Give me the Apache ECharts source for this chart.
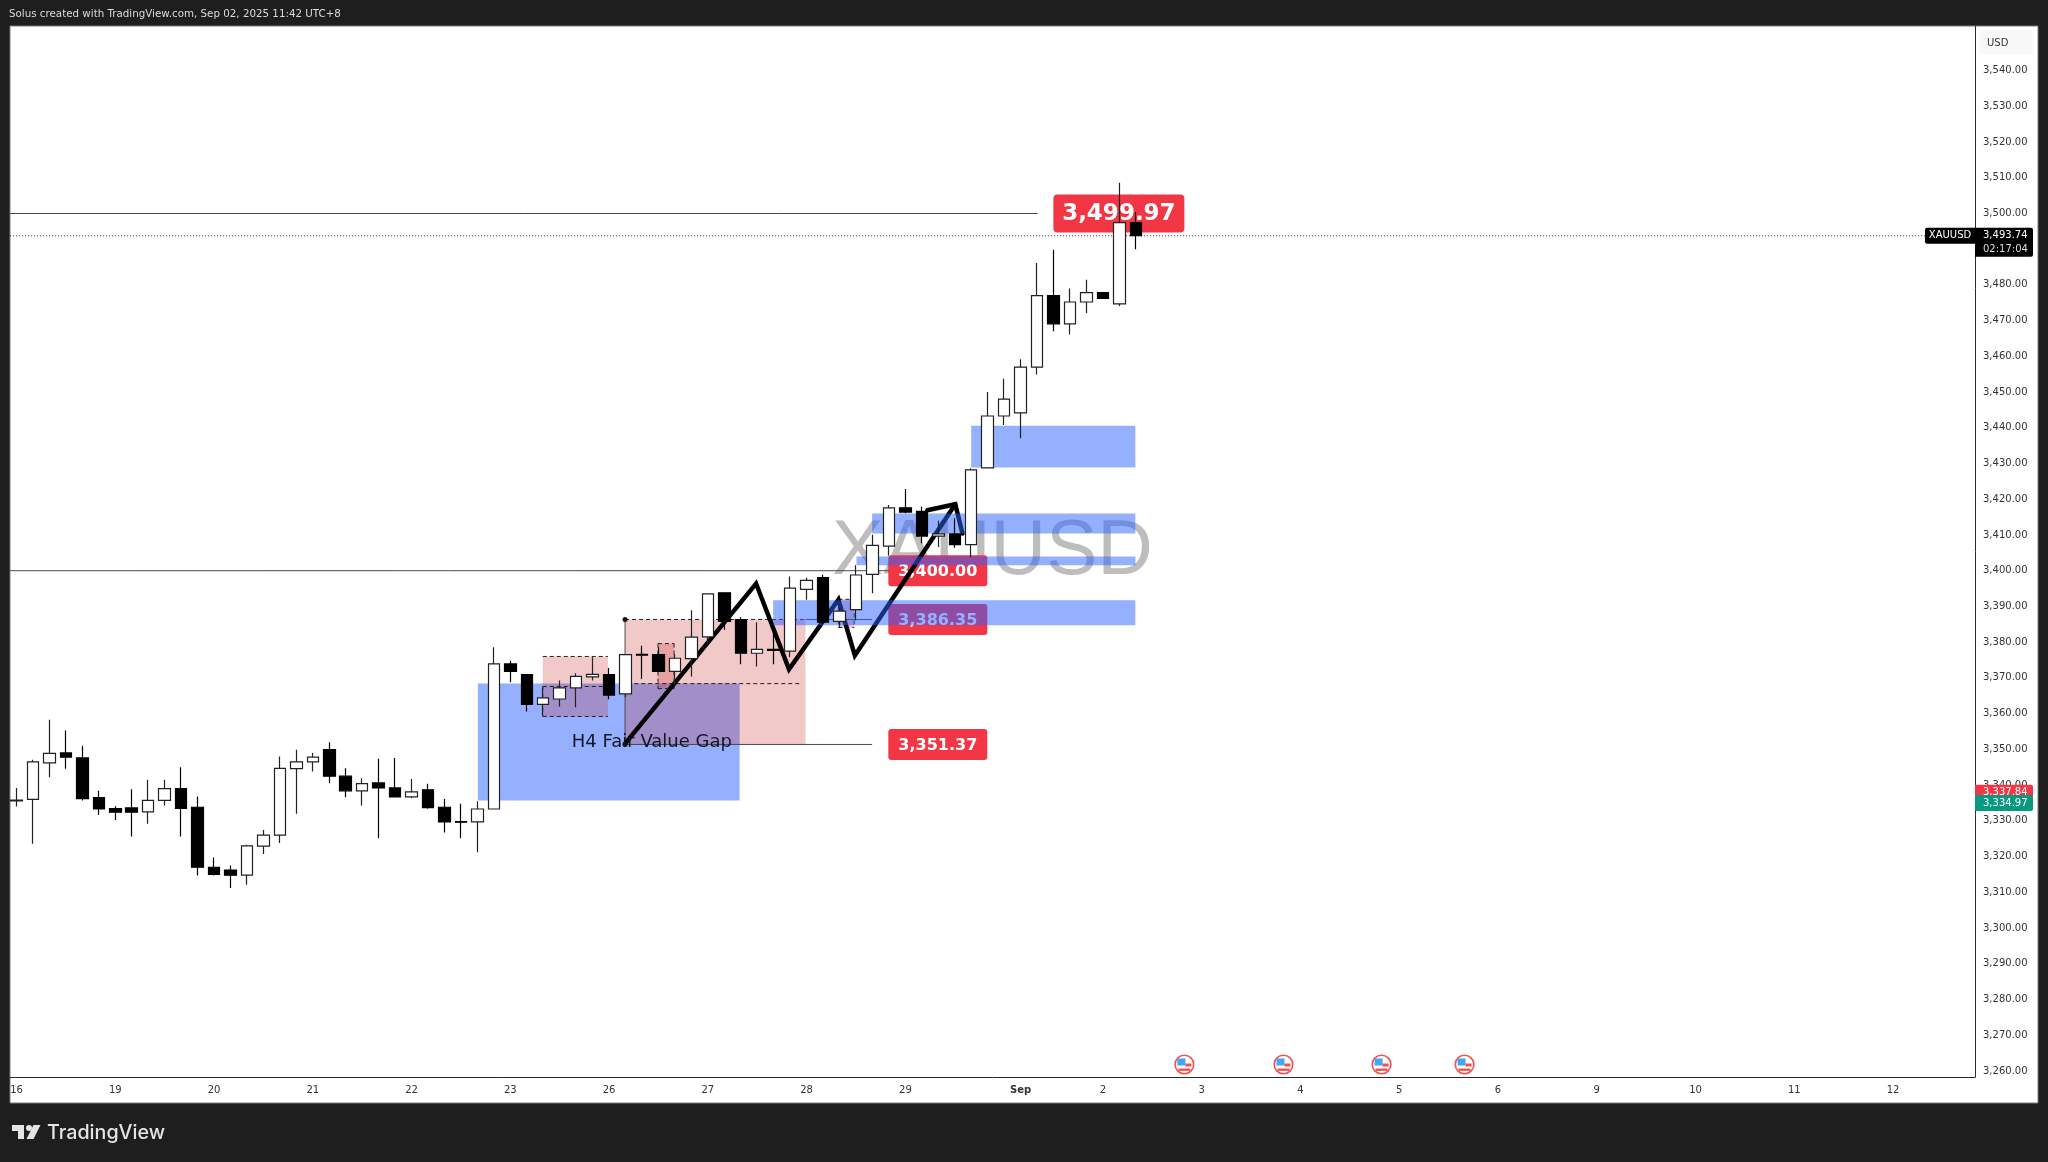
<!DOCTYPE html>
<html><head><meta charset="utf-8">
<style>html,body{margin:0;padding:0;background:#1e1e1e}#c{width:2048px;height:1162px}</style>
<script src="https://cdn.jsdelivr.net/npm/echarts@6/dist/echarts.min.js"></script>
</head><body><div id="c"></div>
<script>
const opens=[3335.6,3336.0,3346.2,3349.0,3347.6,3336.5,3333.4,3333.6,3332.5,3335.7,3339.0,3333.8,3317.0,3316.2,3314.8,3322.9,3326.0,3344.6,3346.5,3349.9,3342.5,3338.4,3340.6,3339.2,3336.7,3338.7,3333.8,3329.8,3329.7,3333.3,3373.9,3370.9,3362.6,3364.1,3367.2,3370.3,3370.9,3365.5,3376.6,3376.5,3371.8,3375.4,3381.5,3393.8,3386.3,3376.9,3378.0,3377.5,3394.8,3398.1,3385.8,3389.1,3398.95,3406.9,3417.6,3416.6,3409.7,3410.3,3407.3,3428.8,3443.3,3444.2,3457.0,3477.0,3469.1,3475.2,3477.8,3474.7,3497.4];
const closes=[3335.8,3346.5,3348.9,3347.8,3336.2,3333.3,3332.4,3332.4,3335.7,3339.0,3333.5,3317.0,3315.0,3314.8,3323.0,3326.0,3344.7,3346.5,3347.8,3342.5,3338.4,3340.4,3339.2,3336.7,3338.1,3333.7,3329.7,3329.6,3333.3,3373.9,3371.8,3362.6,3364.4,3367.2,3370.4,3371.0,3365.2,3376.5,3376.4,3371.8,3375.5,3381.4,3393.5,3385.8,3376.9,3378.0,3377.7,3395.1,3397.3,3385.6,3388.7,3398.8,3407.1,3417.6,3416.4,3409.7,3410.3,3407.3,3428.2,3443.3,3448.0,3457.0,3477.0,3469.1,3475.2,3477.8,3476.2,3497.4,3493.74];
const lows=[3334.0,3323.6,3342.2,3344.6,3335.7,3331.6,3330.2,3325.6,3329.2,3334.3,3325.6,3314.7,3314.7,3311.2,3312.1,3320.7,3323.8,3332.0,3343.8,3340.5,3336.6,3334.3,3325.1,3336.6,3336.3,3333.4,3326.7,3325.1,3321.2,3333.3,3368.8,3360.6,3359.5,3362.0,3361.8,3369.3,3364.0,3364.6,3369.7,3371.6,3367.9,3370.4,3379.5,3383.5,3373.8,3373.2,3373.8,3375.8,3391.9,3385.1,3384.0,3386.1,3393.7,3404.2,3416.1,3407.7,3406.6,3406.4,3403.8,3428.8,3440.8,3437.1,3454.9,3467.0,3466.1,3472.1,3476.2,3474.1,3490.0];
const highs=[3339.2,3347.1,3358.3,3355.3,3351.0,3338.4,3334.1,3338.8,3341.5,3341.5,3345.0,3336.8,3319.7,3317.5,3323.3,3327.4,3348.0,3349.9,3349.0,3352.0,3344.7,3341.9,3347.4,3347.6,3341.7,3340.4,3336.1,3334.8,3335.5,3378.6,3374.8,3370.9,3367.4,3369.3,3371.3,3375.8,3372.8,3376.5,3379.0,3378.6,3376.7,3388.9,3393.5,3393.8,3387.0,3385.6,3384.2,3398.4,3398.0,3398.9,3389.8,3401.5,3410.05,3418.4,3422.9,3417.9,3414.0,3414.7,3428.7,3450.0,3453.7,3459.2,3486.1,3489.8,3479.0,3481.4,3477.8,3508.6,3500.4];

const yTicks=[3260,3270,3280,3290,3300,3310,3320,3330,3340,3350,3360,3370,3380,3390,3400,3410,3420,3430,3440,3450,3460,3470,3480,3490,3500,3510,3520,3530,3540];
const xTickBars=[0,6,12,18,24,30,36,42,48,54,61,66,72,78,84,90,96,102,108,114];
const xTickLabels=['16','19','20','21','22','23','26','27','28','29','Sep','2','3','4','5','6','9','10','11','12'];

// rows: from bar, to bar, top price, bottom price
const bigZone=[[28.03,43.93,3368.4,3335.7]];
const blueZones=[[45.97,67.97,3391.7,3384.7],[51.03,67.97,3404.0,3401.5],[51.98,67.97,3416.0,3410.4],[58.0,67.97,3440.6,3428.9]];
const pinkZones=[[31.97,35.93,3376.0,3359.2],[36.97,47.93,3386.35,3351.4],[38.97,39.95,3379.6,3367.0],[49.93,50.89,3392.0,3384.1]];
// rows: from bar, price, to bar, price
const solidLines=[[-0.39,3499.97,62.03,3499.97],[-0.39,3400,53,3400],[47.93,3386.35,51.98,3386.35],[36.97,3351.37,51.98,3351.37],[36.97,3386.35,36.97,3351.37]];
const dashedLines=[[36.97,3386.35,47.93,3386.35],[37.53,3368.4,47.63,3368.4],[31.97,3376,35.93,3376],[31.97,3367.6,35.93,3367.6],[31.97,3359.2,35.93,3359.2],[31.97,3367.6,31.97,3359.2],
 [38.97,3379.6,39.95,3379.6],[38.97,3379.6,38.97,3367],[39.95,3379.6,39.95,3367],[38.97,3367,39.95,3367],[49.93,3392,50.89,3392],[49.93,3384.1,50.89,3384.1],[50.89,3392,50.89,3384.1],[49.93,3392,49.93,3384.1]];
const lastPrice=3493.74;
const zigBars=[36.97,44.93,46.93,49.93,50.93,57.03];
const zigPrices=[3351.6,3396.4,3372.4,3391.9,3376.3,3418.6];
const hookBars=[55.33,57.03,57.47];
const hookPrices=[3416.9,3418.6,3410.4];
const labelBars=[66.97,55.97,55.97,55.97];
const labelPrices=[3499.97,3400.00,3386.35,3351.37];
const labelTexts=['3,499.97','3,400.00','3,386.35','3,351.37'];
const tagPrices=[3337.84,3334.97];
const tagTexts=['3,337.84','3,334.97'];
const flagBars=[70.95,76.97,82.93,87.97];
const flagPrice=3261.8;

const el=document.getElementById('c');
const chart=echarts.init(el,null,{renderer:'canvas',width:2048,height:1162});
const AXF='"DejaVu Sans"';
const PL=10,PR=1975,PT=26,PB=1077,SR=2038,TB=1103;
const fmt=v=>v.toLocaleString('en-US',{minimumFractionDigits:2,maximumFractionDigits:2});

function rects(rows,fill,z){return {type:'custom',z,silent:true,data:rows,encode:{x:[0,1],y:[2,3]},clip:true,
  renderItem(p,api){const a=api.coord([api.value(0),api.value(2)]),b=api.coord([api.value(1),api.value(3)]);
    return {type:'rect',shape:{x:a[0],y:a[1],width:b[0]-a[0],height:b[1]-a[1]},style:{fill}};}};}
function segs(rows,stroke,dash,z,width){return {type:'custom',z,silent:true,data:rows,encode:{x:[0,2],y:[1,3]},clip:true,
  renderItem(p,api){const a=api.coord([api.value(0),api.value(1)]),b=api.coord([api.value(2),api.value(3)]);
    return {type:'line',shape:{x1:a[0],y1:a[1],x2:b[0],y2:b[1]},style:{stroke,lineWidth:width||1,lineDash:dash||null}};}};}
function poly(xs,ys,z){return {type:'line',z,silent:true,data:xs.map((x,i)=>[x,ys[i]]),symbol:'none',animation:false,
  lineStyle:{color:'#000',width:4.5,join:'miter',cap:'round'}};}

const option={
 animation:false,
 backgroundColor:'#1e1e1e',
 grid:{left:PL,top:PT,width:PR-PL,height:PB-PT,show:false,containLabel:false},
 xAxis:{type:'value',min:-0.395,max:118.98,splitLine:{show:false},axisTick:{show:false},
   axisLine:{show:true,onZero:false,lineStyle:{color:'#2a2a2a',width:1}},
   axisLabel:{customValues:xTickBars,margin:8,fontFamily:AXF,fontSize:10,color:'#333',
     formatter:v=>{const l=xTickLabels[xTickBars.indexOf(v)];return l==='Sep'?'{b|Sep}':(l||'');},
     rich:{b:{fontFamily:AXF,fontSize:10,fontWeight:'bold',color:'#333'}}}},
 yAxis:{type:'value',position:'right',min:3258.3,max:3552.45,splitLine:{show:false},axisTick:{show:false},
   axisLine:{show:true,onZero:false,lineStyle:{color:'#2a2a2a',width:1}},
   axisLabel:{customValues:yTicks,margin:8,align:'left',fontFamily:AXF,fontSize:10,color:'#333',formatter:v=>fmt(v)}},
 graphic:[
  {type:'rect',z:-20,silent:true,shape:{x:PL,y:PT,width:SR-PL,height:TB-PT},style:{fill:'#fff',stroke:'#7a7a7a',lineWidth:1}},
  {type:'rect',z:-19,silent:true,shape:{x:1979,y:30,width:54,height:24,r:3},style:{fill:'#f8f8f8'}},
  {type:'text',z:-18,silent:true,style:{x:1987,y:43,text:'USD',font:'10px '+AXF,fill:'#333',verticalAlign:'middle'}},
  {type:'text',z:-18,silent:true,style:{x:992.5,y:553,text:'XAUUSD',font:'77px "Liberation Sans"',fill:'#bdbdbd',align:'center',verticalAlign:'middle'}},
  {type:'text',silent:true,style:{x:9,y:14,text:'Solus created with TradingView.com, Sep 02, 2025 11:42 UTC+8',font:'10.3px '+AXF,fill:'#dcdcdc',verticalAlign:'middle'}},
  {type:'text',silent:true,style:{x:47,y:1133,text:'TradingView',font:'500 19.7px Inter',fill:'#e4e4e4',verticalAlign:'middle'}},
  {type:'polygon',silent:true,shape:{points:[[12,1125],[24,1125],[24,1139],[18,1139],[18,1131],[12,1131]]},style:{fill:'#e4e4e4'}},
  {type:'circle',silent:true,shape:{cx:29,cy:1128,r:3},style:{fill:'#e4e4e4'}},
  {type:'polygon',silent:true,shape:{points:[[33.5,1125],[40.5,1125],[33.5,1139],[26.5,1139]]},style:{fill:'#e4e4e4'}}
 ],
 series:[
  rects(bigZone,'rgba(41,98,255,0.5)',2),
  rects(pinkZones,'rgba(204,40,40,0.25)',3),
  // red value labels
  {type:'custom',z:4,silent:true,data:labelBars.map((b,i)=>[b,labelPrices[i]]),encode:{x:0,y:1},
   renderItem(p,api){const c=api.coord([api.value(0),api.value(1)]);const big=p.dataIndex===0;
     const w=big?131:99,h=big?38:31;
     return {type:'group',children:[
       {type:'rect',shape:{x:c[0]-w/2,y:c[1]-h/2,width:w,height:h,r:big?4:3},style:{fill:'#f23645'}},
       {type:'text',style:{x:c[0],y:c[1]+1,text:labelTexts[p.dataIndex],font:(big?'bold 23px ':'bold 16px ')+AXF,fill:'#fff',align:'center',verticalAlign:'middle'}}]};}},
  segs(solidLines,'#4a4a4a',null,5),
  segs(dashedLines,'#222',[4,3],5),
  {type:'line',z:5,silent:true,data:[[-0.39,lastPrice],[116,lastPrice]],symbol:'none',lineStyle:{color:'#333',width:1,type:[1,2]}},
  poly(zigBars,zigPrices,6),
  poly(hookBars,hookPrices,6),
  rects(blueZones,'rgba(41,98,255,0.5)',7),
  {type:'custom',z:8,silent:true,data:[[36.97,3386.35],[36.97,3351.37]],encode:{x:0,y:1},
   renderItem(p,api){const c=api.coord([api.value(0),api.value(1)]);return {type:'circle',shape:{cx:c[0],cy:c[1],r:2.5},style:{fill:'#111'}};}},
  {type:'candlestick',z:9,silent:true,barWidth:12,clip:false,
   data:opens.map((o,i)=>[i,o,closes[i],lows[i],highs[i]]),encode:{x:0,y:[1,2,3,4]},
   itemStyle:{color:'#fff',color0:'#000',borderColor:'#222',borderColor0:'#000',borderWidth:1.2}},
  {type:'custom',z:10,silent:true,data:[[38.6,3351.9]],encode:{x:0,y:1},
   renderItem(p,api){const c=api.coord([api.value(0),api.value(1)]);
     return {type:'text',style:{x:c[0],y:c[1],text:'H4 Fair Value Gap',font:'18px '+AXF,fill:'#131722',align:'center',verticalAlign:'middle'}};}},
  // event flags
  {type:'custom',z:10,silent:true,data:flagBars.map(b=>[b,flagPrice]),encode:{x:0,y:1},
   renderItem(p,api){const c=api.coord([api.value(0),api.value(1)]);const x=c[0],y=c[1];
     return {type:'group',children:[
       {type:'circle',shape:{cx:x,cy:y,r:9.3},style:{fill:'#fff',stroke:'#ef5350',lineWidth:1.6}},
       {type:'rect',shape:{x:x-7,y:y-6,width:8,height:7},style:{fill:'#42a5f5'}},
       {type:'rect',shape:{x:x+1,y:y-1,width:6,height:3},style:{fill:'#ef5350'}},
       {type:'rect',shape:{x:x-6,y:y+4,width:12,height:2.4},style:{fill:'#ef5350'}}]};}},
  // scale tags
  {type:'custom',z:11,silent:true,data:tagPrices.map(v=>[0,v]),encode:{x:0,y:1},
   renderItem(p,api){const c=api.coord([0,api.value(1)]);const cols=['#f23645','#089981'];
     return {type:'group',children:[
       {type:'rect',shape:{x:PR,y:c[1]-8,width:58,height:16,r:[0,2,2,0]},style:{fill:cols[p.dataIndex]}},
       {type:'text',style:{x:1983,y:c[1],text:tagTexts[p.dataIndex],font:'10px '+AXF,fill:'#fff',verticalAlign:'middle'}}]};}},
  {type:'custom',z:11,silent:true,data:[[0,lastPrice]],encode:{x:0,y:1},
   renderItem(p,api){const c=api.coord([0,api.value(1)]);const y=c[1];
     return {type:'group',children:[
       {type:'rect',shape:{x:1925,y:y-8,width:50,height:16,r:[2,0,0,2]},style:{fill:'#000'}},
       {type:'text',style:{x:1950,y:y,text:'XAUUSD',font:'10px '+AXF,fill:'#fff',align:'center',verticalAlign:'middle'}},
       {type:'rect',shape:{x:PR,y:y-8,width:58,height:29,r:[0,2,2,0]},style:{fill:'#000'}},
       {type:'text',style:{x:1983,y:y,text:fmt(api.value(1)),font:'10px '+AXF,fill:'#fff',verticalAlign:'middle'}},
       {type:'text',style:{x:1983,y:y+13.5,text:'02:17:04',font:'10px '+AXF,fill:'#ddd',verticalAlign:'middle'}}]};}}
 ]
};
chart.setOption(option);
</script></body></html>
